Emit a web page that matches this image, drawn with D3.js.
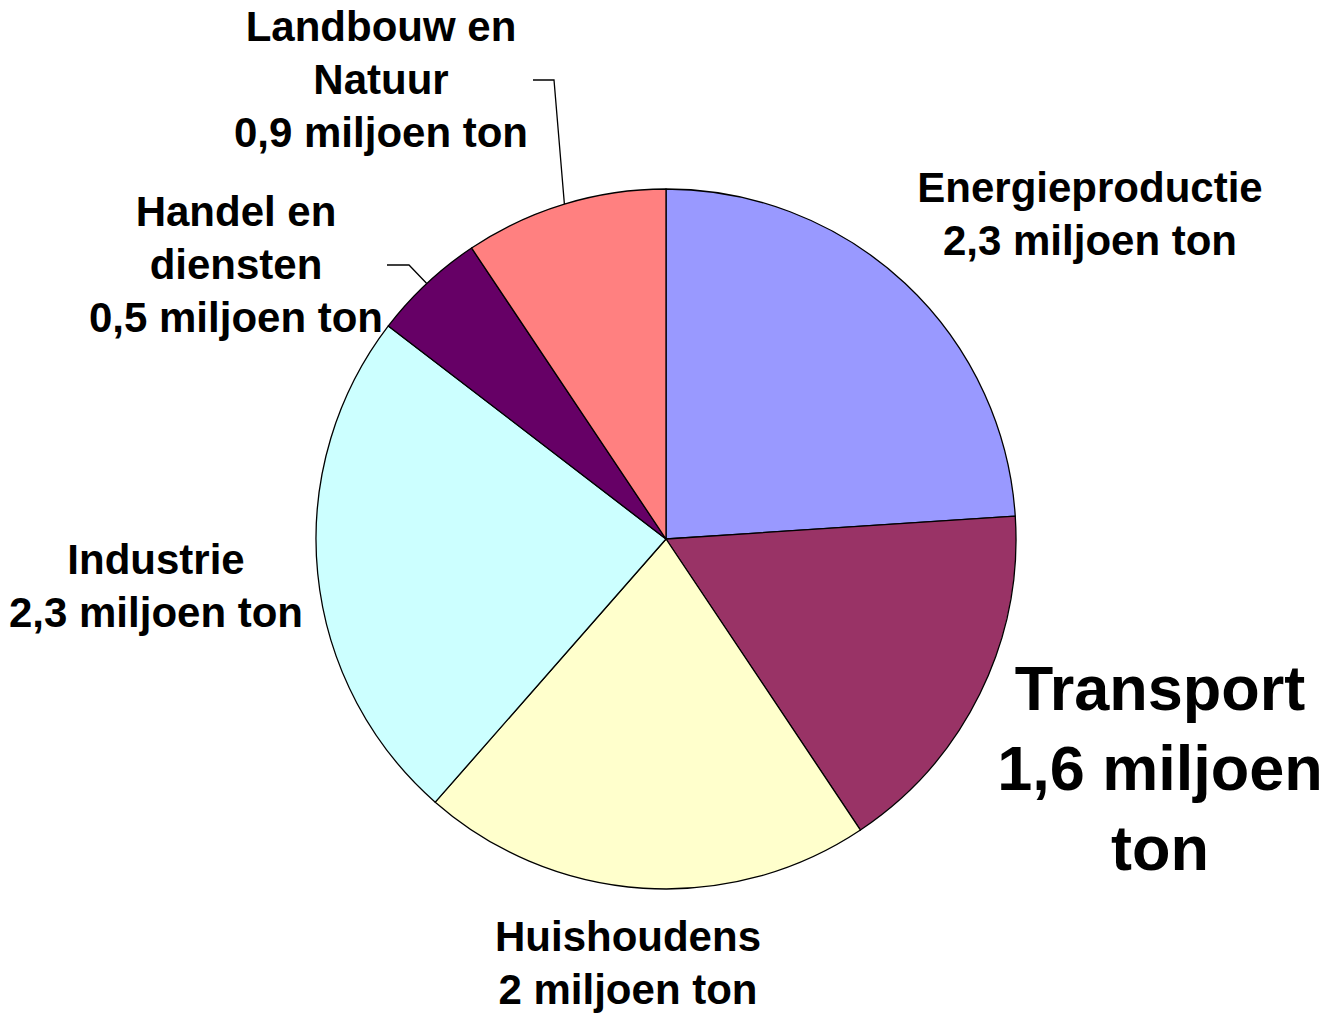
<!DOCTYPE html>
<html>
<head>
<meta charset="utf-8">
<script src="https://cdn.jsdelivr.net/npm/d3@7"></script>
<style>
  body { margin: 0; background: #fff; }
  svg { display: block; }
  text { font-family: "Liberation Sans", Arial, sans-serif; font-weight: bold; fill: #000; }
</style>
</head>
<body>
<div id="chart"></div>
<script>
// data
const sectors = ['Energieproductie', 'Transport', 'Huishoudens', 'Industrie', 'Handel en diensten', 'Landbouw en Natuur'];
const values = [2.3, 1.6, 2.0, 2.3, 0.5, 0.9];
const labelLines = [
    ['Energieproductie', '2,3 miljoen ton'],
    ['Transport', '1,6 miljoen', 'ton'],
    ['Huishoudens', '2 miljoen ton'],
    ['Industrie', '2,3 miljoen ton'],
    ['Handel en', 'diensten', '0,5 miljoen ton'],
    ['Landbouw en', 'Natuur', '0,9 miljoen ton']
];
const colors = ['#9999FF', '#993366', '#FFFFCC', '#CCFFFF', '#660066', '#FF8080'];

// layout
const width = 1324, height = 1013;
const cx = 666, cy = 539, radius = 350;

// label anchor (centre x, first baseline), font size, line step
const labelLayout = [
    { x: 1090, y: 202, size: 42, step: 53 },
    { x: 1160, y: 710, size: 63, step: 80 },
    { x: 628, y: 951, size: 42, step: 53 },
    { x: 156, y: 574, size: 42, step: 53 },
    { x: 236, y: 226, size: 42, step: 53 },
    { x: 381, y: 41, size: 42, step: 53 }
];
// leader lines: elbow + end point, null when none
const leaders = [null, null, null, null,
    [[409, 265], [387, 265]],
    [[554, 80], [533, 80]]];

const svg = d3.select('#chart').append('svg')
    .attr('width', width)
    .attr('height', height);

const pie = d3.pie().sort(null).value(d => d);
const arcs = pie(values);
const arc = d3.arc().innerRadius(0).outerRadius(radius);

const g = svg.append('g').attr('transform', `translate(${cx},${cy})`);

g.selectAll('path.slice')
    .data(arcs)
    .enter()
    .append('path')
    .attr('class', 'slice')
    .attr('d', arc)
    .attr('fill', (d, i) => colors[i])
    .attr('stroke', '#000')
    .attr('stroke-width', 1.3)
    .attr('stroke-linejoin', 'round');

// leader lines from the slice edge at mid angle
arcs.forEach((d, i) => {
    if (!leaders[i]) return;
    const mid = (d.startAngle + d.endAngle) / 2;
    const start = [cx + radius * Math.sin(mid), cy - radius * Math.cos(mid)];
    const pts = [start].concat(leaders[i]);
    svg.append('path')
        .attr('d', d3.line()(pts))
        .attr('fill', 'none')
        .attr('stroke', '#000')
        .attr('stroke-width', 1.3);
});

// labels
labelLines.forEach((lines, i) => {
    const lay = labelLayout[i];
    const t = svg.append('text')
        .attr('text-anchor', 'middle')
        .style('font-size', lay.size + 'px');
    lines.forEach((line, j) => {
        t.append('tspan')
            .attr('x', lay.x)
            .attr('y', lay.y + j * lay.step)
            .text(line);
    });
});
</script>
</body>
</html>
